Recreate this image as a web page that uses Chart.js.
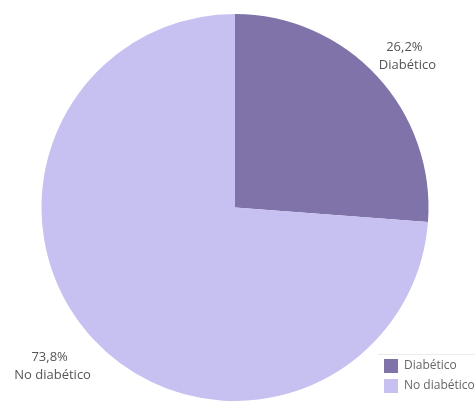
<!DOCTYPE html>
<html>
<head>
<meta charset="utf-8">
<script src="https://cdn.jsdelivr.net/npm/chart.js@4"></script>
<style>
  html, body { margin: 0; padding: 0; background: #fff; overflow: hidden; }
  #wrap { width: 475px; height: 401px; position: relative; }
</style>
</head>
<body>
<div id="wrap"><canvas id="pieChart" width="475" height="401"></canvas></div>
<script>
const categories = ['Diabético', 'No diabético'];
const shares = [26.2, 73.8];
const colors = ['#7f73a9', '#c6c1f0'];

// Percent labels outside each slice + legend bottom-right
const labelPlugin = {
    id: 'sliceLabels',
    afterDraw(chart) {
        const ctx = chart.ctx;
        const meta = chart.getDatasetMeta(0);
        const nudge = [[0, 9], [-10, -1]]; // small hand tweaks per label
        ctx.save();
        ctx.font = "13px 'Open Sans', sans-serif";
        ctx.fillStyle = '#555';
        ctx.textAlign = 'center';
        ctx.textBaseline = 'middle';
        meta.data.forEach((arc, i) => {
            const mid = (arc.startAngle + arc.endAngle) / 2;
            const r = arc.outerRadius * 1.215;
            const x = arc.x + Math.cos(mid) * r + nudge[i][0];
            const y = arc.y + Math.sin(mid) * r + nudge[i][1];
            ctx.fillText(shares[i].toFixed(1).replace('.', ',') + '%', x - 3, y - 9);
            ctx.fillText(categories[i], x, y + 9);
        });

        // legend
        ctx.strokeStyle = '#ececec';
        ctx.lineWidth = 1;
        ctx.beginPath();
        ctx.moveTo(378, 354.5);
        ctx.lineTo(475, 354.5);
        ctx.stroke();

        ctx.font = "12px 'Open Sans', sans-serif";
        ctx.textAlign = 'left';
        categories.forEach((c, i) => {
            const y = 359 + i * 20;
            ctx.fillStyle = colors[i];
            ctx.fillRect(384, y, 14, 14);
            ctx.fillStyle = '#666';
            ctx.fillText(c, 404, y + 7);
        });
        ctx.restore();
    }
};

new Chart(document.getElementById('pieChart'), {
    type: 'pie',
    data: {
        labels: categories,
        datasets: [{
            data: shares,
            backgroundColor: colors,
            borderWidth: 0,
            hoverOffset: 0
        }]
    },
    options: {
        responsive: false,
        animation: false,
        layout: { padding: { left: 41, right: 46, top: 14, bottom: -2 } },
        plugins: {
            legend: { display: false },
            tooltip: { enabled: false }
        }
    },
    plugins: [labelPlugin]
});
</script>
</body>
</html>
